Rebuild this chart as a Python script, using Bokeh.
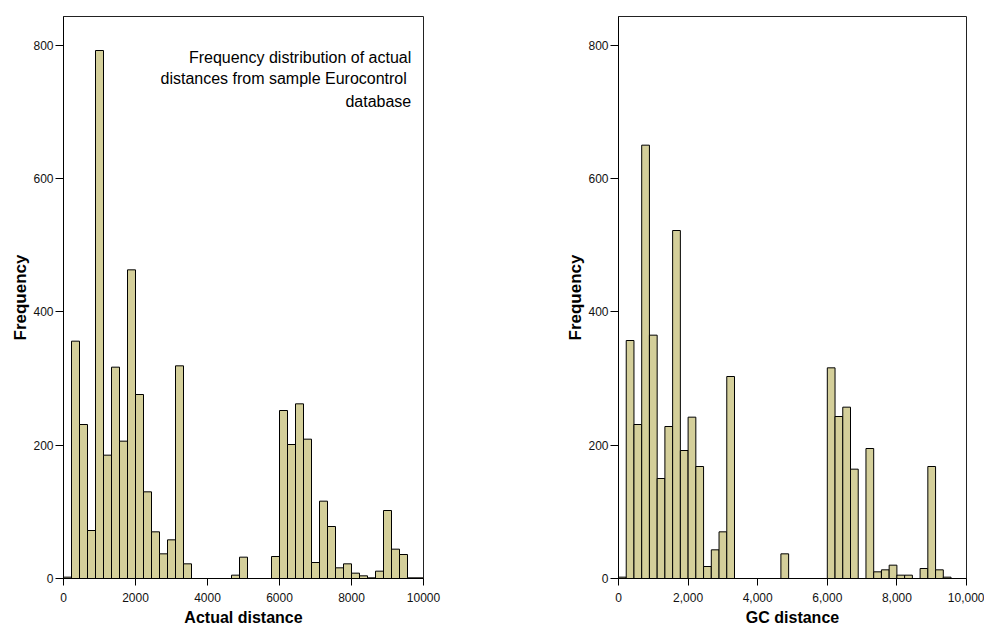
from bokeh.plotting import figure
from bokeh.models import Range1d, FixedTicker, NumeralTickFormatter, Label
from bokeh.layouts import row
from bokeh.embed import file_html
from bokeh.resources import INLINE

# 45 equal bins from 0 to 10000
bin_count = 45
x_min, x_max = 0, 10000

actual_freq = [2, 356, 231, 72, 792, 185, 317, 206, 463, 276, 130, 70, 37, 58, 319,
               22, 0, 0, 0, 0, 0, 5, 32, 0, 0, 0, 33, 252, 201, 262, 209, 24, 116,
               78, 16, 22, 8, 4, 1, 11, 102, 44, 36, 1, 1]
gc_freq = [2, 357, 231, 650, 365, 150, 228, 522, 192, 242, 168, 18, 43, 70, 303,
           0, 0, 0, 0, 0, 0, 37, 0, 0, 0, 0, 0, 316, 243, 257, 164, 0, 195,
           10, 13, 20, 5, 5, 0, 15, 168, 13, 2, 0, 0]

y_ticks = [0, 200, 400, 600, 800]
x_ticks = [0, 2000, 4000, 6000, 8000, 10000]
note_lines = ["Frequency distribution of actual",
              "distances from sample Eurocontrol ",
              "database"]

width_bin = (x_max - x_min) / bin_count
lefts = [x_min + i * width_bin for i in range(bin_count)]
rights = [x_min + (i + 1) * width_bin for i in range(bin_count)]

BAR = "#D4CF9A"
FONT = "Liberation Sans"


def make_fig(freq, xlabel, fmt, border_left, border_right, fwidth):
    p = figure(frame_width=fwidth, frame_height=562,
               x_range=Range1d(x_min, x_max), y_range=Range1d(0, 843),
               output_backend="svg", toolbar_location=None,
               min_border_left=border_left, min_border_right=border_right,
               min_border_top=16, min_border_bottom=50)
    p.quad(left=lefts, right=rights, bottom=0, top=freq,
           fill_color=BAR, line_color="black", line_width=1)
    p.xgrid.visible = False
    p.ygrid.visible = False
    p.outline_line_color = "#222222"
    p.outline_line_width = 1
    for ax in (p.xaxis[0], p.yaxis[0]):
        ax.axis_line_color = "black"
        ax.major_tick_line_color = "black"
        ax.major_tick_in = 0
        ax.minor_tick_line_color = None
        ax.major_label_text_font = FONT
        ax.major_label_text_font_size = "12px"
        ax.major_label_text_color = "#111111"
        ax.axis_label_text_font = FONT
        ax.axis_label_text_font_style = "bold"
        ax.axis_label_text_color = "black"
    p.xaxis.ticker = FixedTicker(ticks=x_ticks)
    p.yaxis.ticker = FixedTicker(ticks=y_ticks)
    p.xaxis.major_tick_out = 7
    p.yaxis.major_tick_out = 8
    p.xaxis.major_label_standoff = 7
    p.yaxis.major_label_standoff = 2
    p.xaxis.axis_label = xlabel
    p.yaxis.axis_label = "Frequency"
    p.xaxis.axis_label_text_font_size = "16px"
    p.yaxis.axis_label_text_font_size = "17px"
    p.xaxis.axis_label_standoff = 4
    p.yaxis.axis_label_standoff = 0
    if fmt:
        p.xaxis.formatter = NumeralTickFormatter(format=fmt)
    return p


p1 = make_fig(actual_freq, "Actual distance", None, 63, 50, 360)
ys = [782, 750, 716]
for line, yy in zip(note_lines, ys):
    p1.add_layout(Label(x=9660, y=yy, text=line, text_align="right",
                        text_baseline="alphabetic", text_font=FONT,
                        text_font_size="16px", text_color="black"))

p2 = make_fig(gc_freq, "GC distance", "0,0", 145, 18, 348)

layout = row(p1, p2)
open("out.html", "w").write(file_html(layout, INLINE))
